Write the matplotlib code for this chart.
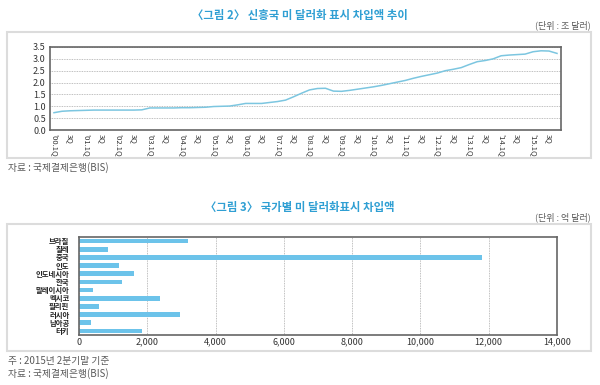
import matplotlib
matplotlib.use("Agg")
import matplotlib.pyplot as plt
from matplotlib.patches import Rectangle

plt.rcParams['font.family'] = ['Noto Sans CJK KR', 'DejaVu Sans']

# ---- data: chart 1 (quarterly, 2000 Q1 - 2015 Q4), trillion USD
years = list(range(2000, 2016))
quarters = ["1Q", "2Q", "3Q", "4Q"]
borrowing = [
    0.73, 0.79, 0.81, 0.82,
    0.83, 0.84, 0.84, 0.84,
    0.84, 0.84, 0.84, 0.85,
    0.93, 0.93, 0.93, 0.93,
    0.94, 0.94, 0.95, 0.96,
    0.99, 1.00, 1.01, 1.06,
    1.12, 1.12, 1.12, 1.16,
    1.20, 1.26, 1.40, 1.55,
    1.69, 1.75, 1.76, 1.64,
    1.63, 1.67, 1.72, 1.77,
    1.82, 1.88, 1.95, 2.02,
    2.09, 2.18, 2.26, 2.33,
    2.40, 2.50, 2.56, 2.63,
    2.76, 2.88, 2.93, 3.00,
    3.13, 3.16, 3.18, 3.20,
    3.30, 3.34, 3.33, 3.23,
]
y_ticks1 = [0.0, 0.5, 1.0, 1.5, 2.0, 2.5, 3.0, 3.5]

# ---- data: chart 2 (by country, 100 million USD)
countries = ["브라질", "칠레", "중국", "인도", "인도네시아", "한국",
             "말레이시아", "멕시코", "필리핀", "러시아", "남아공", "터키"]
amounts = [3200, 860, 11800, 1180, 1600, 1270, 420, 2380, 590, 2970, 340, 1840]
x_ticks2 = [0, 2000, 4000, 6000, 8000, 10000, 12000, 14000]

W, H = 600, 385
fig = plt.figure(figsize=(W / 100, H / 100), dpi=100)

def fx(px):
    return px / W

def fy(py):
    return 1 - py / H

title_color = "#2f9fd3"
grey_text = "#5a5a5a"
line_color = "#7cc6e0"
bar_color = "#6cc3ea"
frame_color = "#dcdcdc"
axis_color = "#666666"
grid_color = "#aaaaaa"

# outer frames
for (x0, y0, x1, y1) in [(7, 32, 591, 158), (7, 224, 591, 351)]:
    fig.patches.append(Rectangle((fx(x0), fy(y1)), fx(x1 - x0), (y1 - y0) / H,
                                 transform=fig.transFigure, fill=False,
                                 edgecolor=frame_color, linewidth=1.5))

# ---------- chart 1
ax1 = fig.add_axes([fx(50), fy(130), fx(561 - 50), (130 - 47) / H])
labels1 = []
for y in years:
    for q in quarters:
        labels1.append(f"'{str(y)[2:]}.{q}")
xs = list(range(len(borrowing)))
ax1.plot(xs, borrowing, color=line_color, linewidth=1.1)
ax1.set_xlim(-0.5, len(borrowing) - 0.5)
ax1.set_ylim(0, 3.5)
ax1.set_yticks(y_ticks1)
ax1.set_yticklabels([f"{v:.1f}" for v in y_ticks1], fontsize=6.5, color="#333333")
tick_pos = xs[::2]
tick_lab = [lab if lab.endswith("1Q") else "3Q" for lab in labels1[::2]]
ax1.set_xticks(tick_pos)
ax1.set_xticklabels(tick_lab, rotation=270, fontsize=5.5, color="#333333")
ax1.tick_params(length=0, pad=3)
ax1.grid(axis="y", linestyle=(0, (1, 1)), color=grid_color, linewidth=0.6)
ax1.set_axisbelow(True)
for s in ax1.spines.values():
    s.set_color(axis_color)
    s.set_linewidth(1.2)

fig.text(0.5, fy(15), "〈그림 2〉 신흥국 미 달러화 표시 차입액 추이", ha="center", va="center",
         fontsize=8.2, color=title_color, fontweight="bold")
fig.text(fx(591), fy(25), "(단위 : 조 달러)", ha="right", va="center", fontsize=6.5, color=grey_text)
fig.text(fx(8), fy(168), "자료 : 국제결제은행(BIS)", ha="left", va="center", fontsize=7, color=grey_text)

# ---------- chart 2
ax2 = fig.add_axes([fx(79), fy(335), fx(557 - 79), (335 - 237) / H])
ys = list(range(len(countries)))
ax2.barh(ys, amounts, height=0.58, color=bar_color)
ax2.set_ylim(len(countries) - 0.5, -0.5)
ax2.set_xlim(0, 14000)
ax2.set_yticks(ys)
ax2.set_yticklabels(countries, fontsize=5.3, color="#222222", fontweight="bold")
ax2.set_xticks(x_ticks2)
ax2.set_xticklabels([f"{v:,}" for v in x_ticks2], fontsize=6.5, color="#333333")
ax2.tick_params(length=0, pad=2)
ax2.tick_params(axis="y", pad=7)
ax2.grid(axis="x", linestyle=(0, (1, 1)), color=grid_color, linewidth=0.6)
ax2.set_axisbelow(True)
for s in ax2.spines.values():
    s.set_color(axis_color)
    s.set_linewidth(1.2)

fig.text(0.5, fy(207), "〈그림 3〉 국가별 미 달러화표시 차입액", ha="center", va="center",
         fontsize=8.2, color=title_color, fontweight="bold")
fig.text(fx(591), fy(217), "(단위 : 억 달러)", ha="right", va="center", fontsize=6.5, color=grey_text)
fig.text(fx(8), fy(361), "주 : 2015년 2분기말 기준", ha="left", va="center", fontsize=7, color=grey_text)
fig.text(fx(8), fy(374), "자료 : 국제결제은행(BIS)", ha="left", va="center", fontsize=7, color=grey_text)

fig.savefig("out.png", dpi=100)
